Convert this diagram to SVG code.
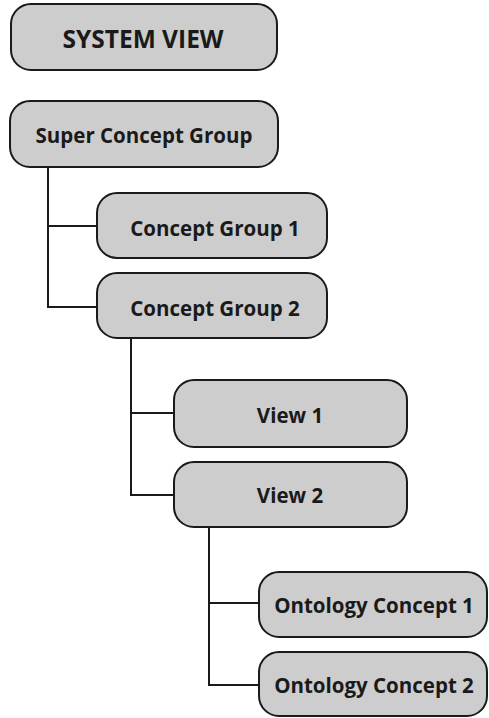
<svg xmlns="http://www.w3.org/2000/svg" width="489" height="718" viewBox="0 0 489 718">
  <style>
    .box { fill: #cdcdcd; stroke: #1a1a1a; stroke-width: 2; }
    .lbl { font-family: "Open Sans", "Noto Sans", "Liberation Sans", sans-serif; font-weight: bold; font-size: 20.5px; fill: #1a1a1a; text-anchor: middle; }
    .title { font-size: 24.5px; }
    .link { fill: none; stroke: #1a1a1a; stroke-width: 2; }
  </style>
  <rect width="489" height="718" fill="#ffffff"/>

  <g id="connectors">
    <path class="link" d="M48,167 V307 H97 M48,226 H97"/>
    <path class="link" d="M131,338 V495 H174 M131,413 H174"/>
    <path class="link" d="M209,527 V685 H259 M209,603 H259"/>
  </g>

  <g id="system-view">
    <rect class="box" x="11" y="4" width="266" height="66" rx="20"/>
    <text class="lbl title" x="143" y="48">SYSTEM VIEW</text>
  </g>
  <g id="super-concept-group">
    <rect class="box" x="10" y="101" width="268" height="66" rx="20"/>
    <text class="lbl" x="144" y="143">Super Concept Group</text>
  </g>
  <g id="concept-group-1">
    <rect class="box" x="97" y="193" width="230" height="65" rx="20"/>
    <text class="lbl" x="215" y="236">Concept Group 1</text>
  </g>
  <g id="concept-group-2">
    <rect class="box" x="97" y="273" width="230" height="65" rx="20"/>
    <text class="lbl" x="215" y="316">Concept Group 2</text>
  </g>
  <g id="view-1">
    <rect class="box" x="174" y="380" width="233" height="67" rx="20"/>
    <text class="lbl" x="290" y="423">View 1</text>
  </g>
  <g id="view-2">
    <rect class="box" x="174" y="462" width="233" height="65" rx="20"/>
    <text class="lbl" x="290" y="503">View 2</text>
  </g>
  <g id="ontology-concept-1">
    <rect class="box" x="259" y="572" width="228" height="65" rx="20"/>
    <text class="lbl" x="374" y="613">Ontology Concept 1</text>
  </g>
  <g id="ontology-concept-2">
    <rect class="box" x="259" y="652" width="228" height="64" rx="20"/>
    <text class="lbl" x="374" y="693">Ontology Concept 2</text>
  </g>
</svg>
